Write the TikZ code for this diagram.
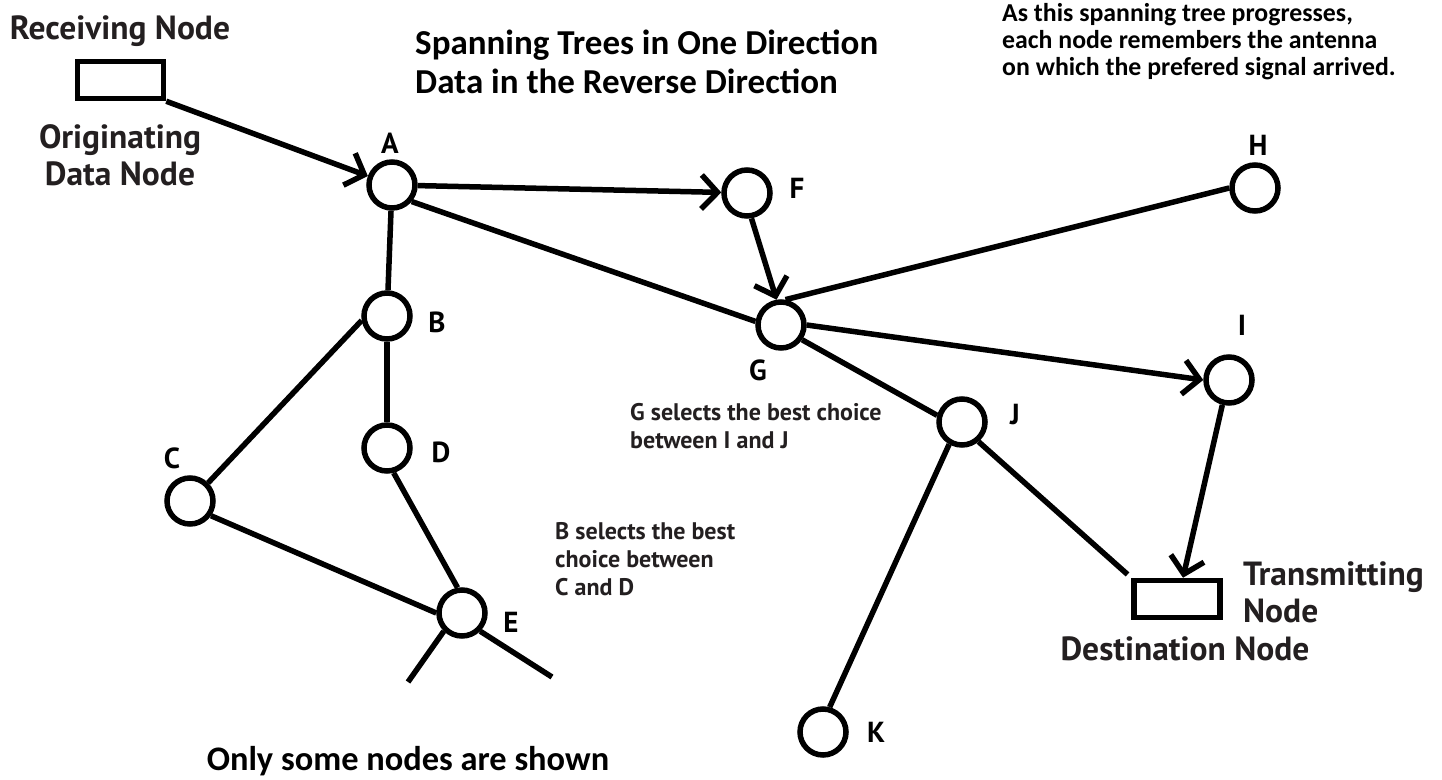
\documentclass[tikz,border=0pt]{standalone}
\usepackage{fontspec}
\newfontfamily\myrfont{PT Sans}
\newfontfamily\calfont{Carlito}
\usetikzlibrary{arrows.meta}
\definecolor{txt}{HTML}{231F20}
\begin{document}
\begin{tikzpicture}[x=1pt,y=-1pt,
  nd/.style={circle,draw,line width=5.5pt,minimum size=46pt,inner sep=0pt},
  box/.style={draw,line width=5.5pt,minimum width=86pt,minimum height=37pt,inner sep=0pt},
  ln/.style={line width=5.5pt},
  arr/.style={ln,-{Straight Barb[length=16pt,width=34pt]}},
  lbl/.style={font=\myrfont\bfseries\fontsize{29}{34}\selectfont,inner sep=0pt,anchor=base},
  captxt/.style={font=\myrfont\bfseries\fontsize{33.5}{37}\selectfont,text=txt,inner sep=0pt},
  notetxt/.style={font=\myrfont\bfseries\fontsize{24}{27.7}\selectfont,text=txt,inner sep=0pt,align=left},
  calt/.style={inner sep=0pt,align=left}]
\useasboundingbox (0,0) rectangle (1442,779);
\fill[white] (0,0) rectangle (1442,779);
% nodes
\node[box] (recv) at (120.5,80) {};
\node[box] (dest) at (1177,599) {};
\node[nd] (A) at (392,185) {};
\node[nd] (F) at (747,193) {};
\node[nd] (H) at (1255,188) {};
\node[nd] (B) at (387,316) {};
\node[nd] (G) at (781,325) {};
\node[nd] (I) at (1229,380) {};
\node[nd] (J) at (962,422) {};
\node[nd] (D) at (387,448) {};
\node[nd] (C) at (190,501) {};
\node[nd] (E) at (462,613) {};
\node[nd] (K) at (823,732) {};
\coordinate (e1) at (408,682);
\coordinate (e2) at (552,677);
% node letters
\node[lbl] (lA) at (390,153) {A};
\node[lbl] (lF) at (797,198) {F};
\node[lbl] (lG) at (758,380) {G};
\node[lbl] (lH) at (1258,155) {H};
\node[lbl] (lB) at (437,332) {B};
\node[lbl] (lD) at (441,462) {D};
\node[lbl] (lE) at (511,632) {E};
\node[lbl] (lC) at (172,468) {C};
\node[lbl] (lI) at (1242,335) {I};
\node[lbl] (lJ) at (1015,424) {J};
\node[lbl] (lK) at (876,742) {K};
% connectors
\draw[arr] (recv.south east) -- (A);
\draw[arr] (A) -- (F);
\draw[ln] (A.-40) -- (G.172);
\draw[ln] (A) -- (B);
\draw[arr] (F.-80) -- (G.100);
\draw[ln] (H.west) -- (G.80);
\draw[arr] (G.east) -- (I.west);
\draw[ln] (G.-35) -- (J.165);
\draw[ln] (B.190) -- (C.45);
\draw[ln] (B) -- (D);
\draw[ln] (C.-35) -- (E.180);
\draw[ln] (D.-75) -- (E.100);
\draw[ln] (E.-135) -- (e1);
\draw[ln] (E.-45) -- (e2);
\draw[ln] (J.-120) -- (K.75);
\draw[ln,shorten >=5pt] (J.-50) -- (dest.north west);
\draw[arr] (I.-105) -- ([xshift=6pt]dest.north);
% texts
\node[captxt,anchor=base] (t1) at (120,39) {Receiving Node};
\node[captxt,anchor=base,align=center] (t2) at (120,185) {Originating\\Data Node};
\node[captxt,anchor=base west,align=left] (t3) at (1243,622) {Transmitting\\Node};
\node[captxt,anchor=base] (t4) at (1185,660) {Destination Node};
\node[notetxt,anchor=base west] (t5) at (630,448) {G selects the best choice\\between I and J};
\node[notetxt,anchor=base west] (t6) at (555,595) {B selects the best\\choice between\\C and D};
\node[calt,anchor=base west,font=\calfont\bfseries\fontsize{35}{39}\selectfont] (t7) at (415,93) {Spanning Trees in One Direction\\Data in the Reverse Direction};
\node[calt,anchor=base west,font=\calfont\bfseries\fontsize{25.8}{27}\selectfont] (t8) at (1002,75) {As this spanning tree progresses,\\each node remembers the antenna\\on which the prefered signal arrived.};
\node[calt,anchor=base,font=\calfont\bfseries\fontsize{34.4}{38}\selectfont] (t9) at (408,770) {Only some nodes are shown};
\end{tikzpicture}
\end{document}
